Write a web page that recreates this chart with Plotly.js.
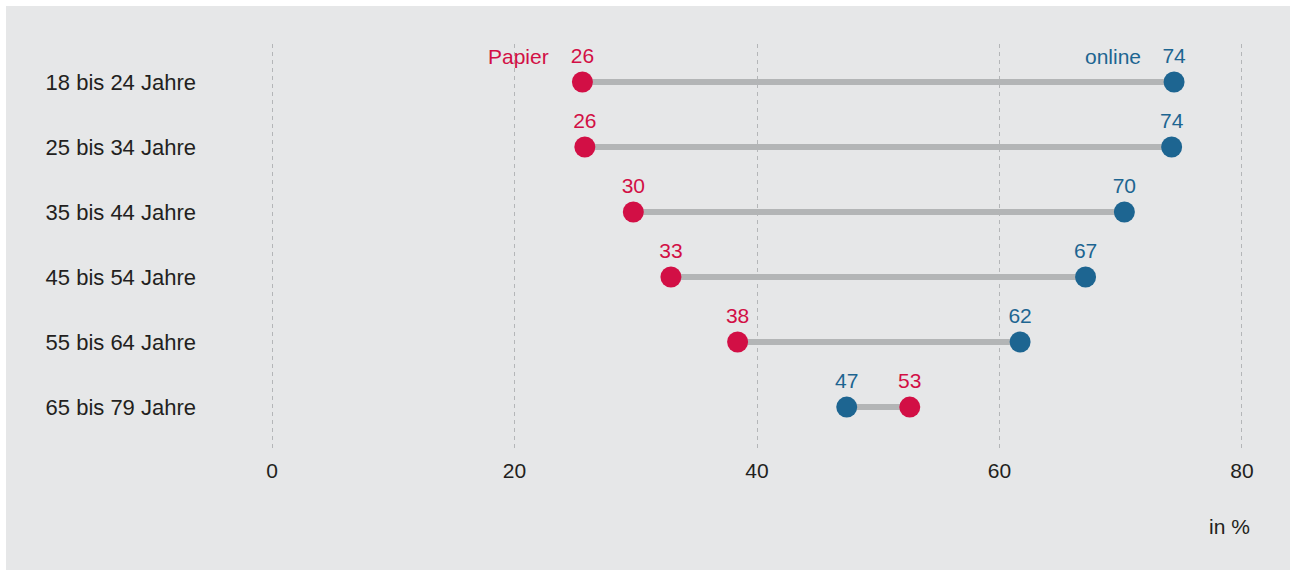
<!DOCTYPE html>
<html>
<head>
<meta charset="utf-8">
<script src="https://cdn.plot.ly/plotly-3.0.1.min.js"></script>
<style>
  html, body { margin: 0; padding: 0; background: #ffffff; }
  #chart { position: absolute; left: 6px; top: 6px; width: 1284px; height: 564px; }
</style>
</head>
<body>
<div id="chart"></div>
<script>
const categories = ["18 bis 24 Jahre", "25 bis 34 Jahre", "35 bis 44 Jahre", "45 bis 54 Jahre", "55 bis 64 Jahre", "65 bis 79 Jahre"];
const papier = [25.6, 25.8, 29.8, 32.9, 38.4, 52.6];
const online = [74.4, 74.2, 70.3, 67.1, 61.7, 47.4];
const xTicks = [0, 20, 40, 60, 80];
const seriesNames = ["Papier", "online"];
const unitLabel = "in %";

const RED = "#d20f45";
const BLUE = "#1d6591";
const FONT = "Liberation Sans, Arial, Helvetica, sans-serif";
const TXT = "#231f20";

const lx = [], ly = [];
categories.forEach((c, i) => {
  lx.push(papier[i], online[i], null);
  ly.push(c, c, null);
});

const traces = [
  {
    x: lx, y: ly, mode: "lines", type: "scatter",
    line: { color: "#b3b5b6", width: 6 },
    hoverinfo: "skip", showlegend: false
  },
  {
    x: online, y: categories, mode: "markers+text", type: "scatter", name: seriesNames[1],
    marker: { color: BLUE, size: 21 },
    text: online.map(v => String(Math.round(v))),
    textposition: "top center",
    textfont: { color: BLUE, size: 21, family: FONT },
    cliponaxis: false, showlegend: false
  },
  {
    x: papier, y: categories, mode: "markers+text", type: "scatter", name: seriesNames[0],
    marker: { color: RED, size: 21 },
    text: papier.map(v => String(Math.round(v))),
    textposition: "top center",
    textfont: { color: RED, size: 21, family: FONT },
    cliponaxis: false, showlegend: false
  }
];

const layout = {
  width: 1284, height: 564,
  margin: { l: 263, r: 45, t: 38, b: 122 },
  paper_bgcolor: "#e6e7e8",
  plot_bgcolor: "rgba(0,0,0,0)",
  font: { family: FONT, color: TXT, size: 21 },
  xaxis: {
    range: [-0.25, 80.25],
    tickvals: xTicks,
    ticktext: xTicks.map(String),
    showgrid: true, gridcolor: "#b4b6b8", gridwidth: 1, griddash: "4px,4px",
    zeroline: false, showline: false, ticks: "",
    tickfont: { size: 21, color: TXT, family: FONT },
    ticklabelstandoff: 8,
    fixedrange: true
  },
  yaxis: {
    type: "category",
    categoryorder: "array", categoryarray: categories,
    range: [5.63, -0.585],
    showgrid: false, zeroline: false, showline: false, ticks: "",
    tickfont: { size: 22, color: TXT, family: FONT },
    ticklabelstandoff: 72,
    fixedrange: true
  },
  annotations: [
    {
      x: papier[0], y: categories[0], xref: "x", yref: "y",
      text: seriesNames[0], showarrow: false,
      xanchor: "right", yanchor: "middle", xshift: -31, yshift: 26,
      font: { color: RED, size: 21, family: FONT }
    },
    {
      x: online[0], y: categories[0], xref: "x", yref: "y",
      text: seriesNames[1], showarrow: false,
      xanchor: "right", yanchor: "middle", xshift: -31, yshift: 26,
      font: { color: BLUE, size: 21, family: FONT }
    },
    {
      x: 1.0072, y: -0.1955, xref: "paper", yref: "paper",
      text: unitLabel, showarrow: false,
      xanchor: "right", yanchor: "middle",
      font: { color: TXT, size: 21, family: FONT }
    }
  ]
};

Plotly.newPlot("chart", traces, layout, { displayModeBar: false, staticPlot: true });
</script>
</body>
</html>
